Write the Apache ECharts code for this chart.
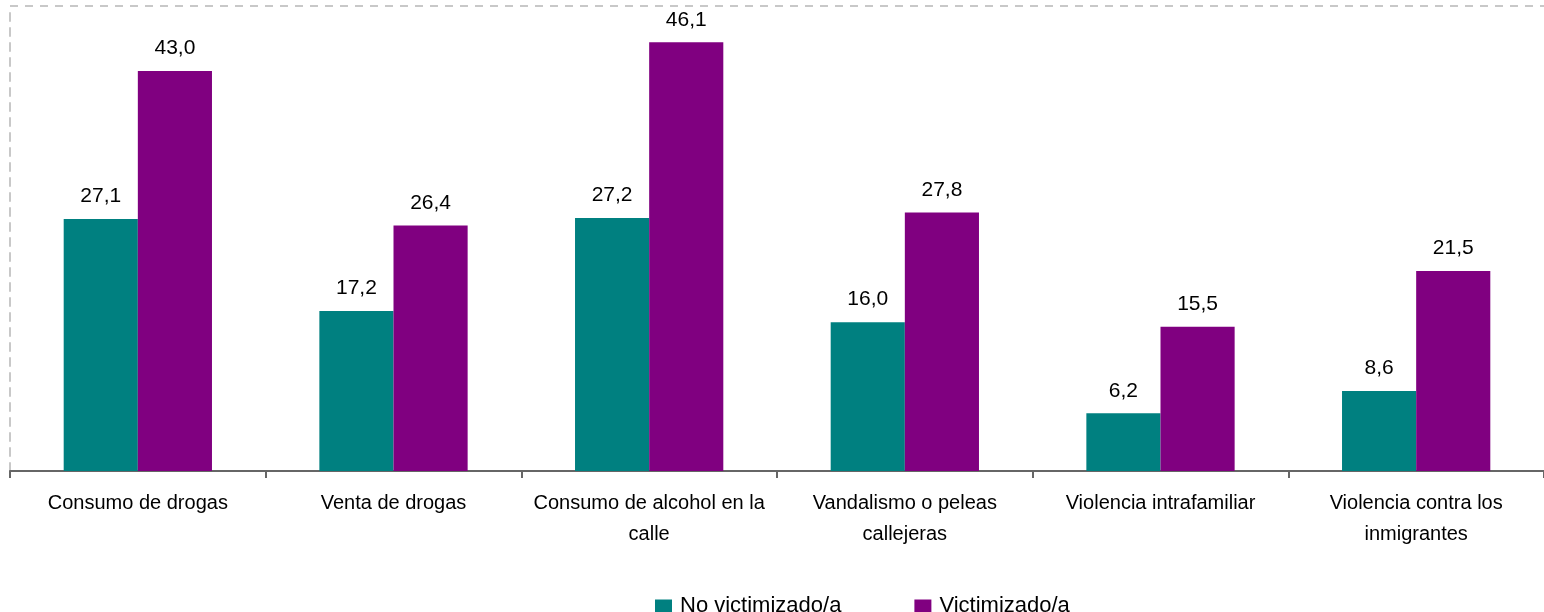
<!DOCTYPE html>
<html>
<head>
<meta charset="utf-8">
<script src="https://cdn.jsdelivr.net/npm/echarts@6/dist/echarts.min.js"></script>
<style>
  html, body { margin: 0; padding: 0; background: #ffffff; }
  #chart { width: 1544px; height: 612px; }
</style>
</head>
<body>
<div id="chart"></div>
<script>
// Problemas percibidos en el barrio, según victimización (%)
const categories = [
  'Consumo de drogas',
  'Venta de drogas',
  'Consumo de alcohol en la\ncalle',
  'Vandalismo o peleas\ncallejeras',
  'Violencia intrafamiliar',
  'Violencia contra los\ninmigrantes'
];
const noVictimizado = [27.1, 17.2, 27.2, 16.0, 6.2, 8.6];
const victimizado = [43.0, 26.4, 46.1, 27.8, 15.5, 21.5];
const seriesNames = ['No victimizado/a', 'Victimizado/a'];

const FONT = '"Liberation Sans", Arial, sans-serif';

const fmt = p => p.value.toFixed(1).replace('.', ',');

const labelStyle = {
  show: true,
  position: 'top',
  distance: 12,
  formatter: fmt,
  fontFamily: FONT,
  fontSize: 21,
  color: '#000000'
};

const chart = echarts.init(document.getElementById('chart'), null, { renderer: 'canvas' });
chart.setOption({
  animation: false,
  backgroundColor: '#ffffff',
  textStyle: { fontFamily: FONT },
  grid: { left: 10, top: 6, width: 1536, height: 465, containLabel: false },
  legend: {
    left: 650,
    top: 590,
    itemWidth: 17,
    itemHeight: 13,
    itemGap: 73,
    icon: 'rect',
    textStyle: { fontFamily: FONT, fontSize: 22, color: '#000000', padding: [0, 0, 0, 3] },
    data: seriesNames
  },
  xAxis: {
    type: 'category',
    data: categories,
    axisLine: { lineStyle: { color: '#666666', width: 2 } },
    axisTick: { show: true, length: 7, lineStyle: { color: '#666666', width: 2 } },
    axisLabel: {
      interval: 0,
      margin: 17,
      fontFamily: FONT,
      fontSize: 20,
      lineHeight: 31,
      color: '#000000'
    }
  },
  yAxis: {
    type: 'value',
    min: 0,
    max: 50,
    interval: 50,
    axisLabel: { show: false },
    axisTick: { show: false },
    axisLine: { show: true, lineStyle: { color: '#c8c8c8', width: 2, type: [8, 7] } },
    splitLine: { show: true, lineStyle: { color: '#c8c8c8', width: 2, type: [8, 7] } }
  },
  series: [
    {
      name: seriesNames[0],
      type: 'bar',
      data: noVictimizado,
      barGap: '0%',
      barCategoryGap: '42%',
      itemStyle: { color: '#008080' },
      label: labelStyle
    },
    {
      name: seriesNames[1],
      type: 'bar',
      data: victimizado,
      barGap: '0%',
      barCategoryGap: '42%',
      itemStyle: { color: '#800080' },
      label: labelStyle
    }
  ]
});
</script>
</body>
</html>
